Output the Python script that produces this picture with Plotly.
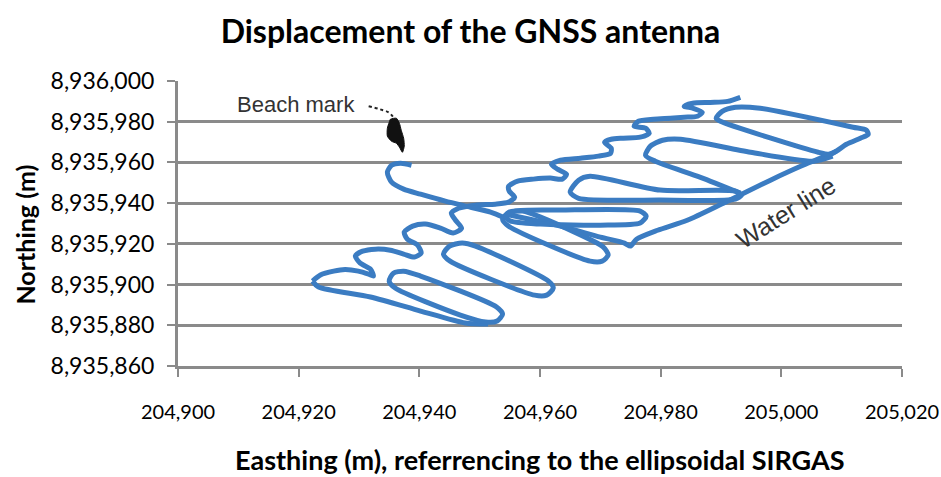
import plotly.graph_objects as go

# ---- data (Easting / Northing, metres) ----
wiggle_e = [204922.3, 204923.6, 204925.8, 204927.7, 204929.9, 204931.6, 204932.4, 204931.9, 204930.2, 204929.4,
            204930.6, 204932.7, 204935.2, 204937.4, 204939.2, 204940.3, 204939.7, 204938.0, 204937.5, 204938.9,
            204941.0, 204943.5, 204945.6, 204947.0, 204946.0, 204945.3, 204946.5, 204949.3, 204952.6, 204954.8,
            204955.8, 204954.9, 204954.8, 204956.3, 204958.9, 204961.7, 204963.7, 204964.4, 204962.9, 204961.9,
            204963.4, 204966.7, 204969.7, 204971.7, 204971.8, 204970.7, 204971.8, 204973.8, 204976.6, 204978.1,
            204977.5, 204975.6, 204976.3, 204978.8, 204981.6, 204983.9, 204986.1, 204986.9, 204985.4, 204983.9,
            204985.3, 204988.2, 204991.1, 204993.2]
wiggle_n = [8935901.7, 8935904.7, 8935906.6, 8935907.4, 8935906.6, 8935905.1, 8935904.2, 8935907.6, 8935910.5, 8935914.0,
            8935916.4, 8935917.4, 8935916.9, 8935915.0, 8935913.5, 8935915.5, 8935919.4, 8935922.3, 8935925.8, 8935928.7,
            8935929.7, 8935927.7, 8935925.3, 8935927.7, 8935931.6, 8935935.1, 8935937.5, 8935939.0, 8935939.5, 8935940.5,
            8935942.9, 8935945.9, 8935948.3, 8935950.8, 8935951.8, 8935952.3, 8935951.8, 8935954.2, 8935956.7, 8935959.1,
            8935961.1, 8935962.1, 8935963.1, 8935964.5, 8935967.0, 8935969.9, 8935971.4, 8935971.9, 8935972.4, 8935974.3,
            8935976.8, 8935977.8, 8935980.2, 8935981.2, 8935981.7, 8935982.2, 8935982.7, 8935984.6, 8935986.6, 8935987.6,
            8935989.1, 8935989.5, 8935990.0, 8935992.0]

hook_e = [204938.7, 204936.9, 204935.4, 204934.7, 204935.4, 204937.4, 204940.2, 204944.3, 204948.5, 204951.8, 204953.9]
hook_n = [8935958.6, 8935959.6, 8935958.6, 8935955.2, 8935950.3, 8935946.9, 8935944.4, 8935941.0, 8935938.0, 8935935.6, 8935933.1]

run1_e = [204922.3, 204923.3, 204931.9, 204940.2, 204947.6, 204951.4]
run1_n = [8935901.7, 8935898.8, 8935893.9, 8935887.0, 8935881.1, 8935880.6]

loop2_e = [204935.0, 204935.7, 204937.4, 204940.2, 204952.8, 204953.8, 204952.9, 204951.0, 204946.8, 204936.0, 204935.0]
loop2_n = [8935901.7, 8935905.6, 8935906.6, 8935904.2, 8935889.0, 8935885.5, 8935882.1, 8935881.6, 8935885.0, 8935898.3, 8935901.7]

loop3_e = [204944.0, 204945.0, 204947.1, 204949.3, 204961.4, 204962.2, 204961.1, 204959.1, 204945.1, 204944.0]
loop3_n = [8935915.0, 8935918.9, 8935920.4, 8935918.9, 8935901.7, 8935898.3, 8935894.8, 8935894.8, 8935911.5, 8935915.0]

loop4_e = [204953.8, 204954.9, 204957.1, 204960.1, 204970.5, 204971.3, 204970.3, 204968.3, 204954.8, 204953.8]
loop4_n = [8935932.1, 8935935.6, 8935936.1, 8935933.1, 8935918.4, 8935914.5, 8935911.5, 8935911.5, 8935928.7, 8935932.1]

water_e = [204954.3, 204963.4, 204970.0, 204974.0, 204975.0, 204976.0, 204979.5, 204984.4, 204990.4, 204998.2,
           205003.2, 205006.5, 205009.1]
water_n = [8935934.6, 8935928.7, 8935923.3, 8935920.4, 8935918.9, 8935922.3, 8935926.7, 8935931.6, 8935940.0, 8935951.3,
           8935958.1, 8935962.1, 8935965.5]

loop5_e = [204954.3, 204955.9, 204963.4, 204976.6, 204977.6, 204976.6, 204970.0, 204960.1, 204955.1, 204954.3]
loop5_n = [8935933.6, 8935936.1, 8935936.6, 8935936.1, 8935933.6, 8935930.2, 8935929.2, 8935929.7, 8935931.2, 8935933.6]

loopb_e = [204965.0, 204966.4, 204968.3, 204979.9, 204992.4, 204993.4, 204992.4, 204979.9, 204966.4, 204965.0]
loopb_n = [8935945.4, 8935951.3, 8935953.2, 8935946.4, 8935945.9, 8935943.9, 8935942.0, 8935941.5, 8935942.4, 8935945.4]

loopa_e = [204993.2, 204986.6, 204979.1, 204977.5, 204978.3, 204980.3, 204983.3, 204994.9, 205005.3, 205008.5]
loopa_n = [8935944.9, 8935952.7, 8935960.6, 8935963.5, 8935968.0, 8935970.9, 8935971.4, 8935965.0, 8935960.6, 8935963.1]

loop8_e = [204989.2, 204990.2, 204992.4, 204996.5, 205011.9, 205014.1, 205014.4, 205013.1, 205010.8, 205009.1,
           205008.1, 205006.1, 204989.9, 204989.2]
loop8_n = [8935981.7, 8935985.1, 8935987.1, 8935986.6, 8935977.3, 8935975.8, 8935973.8, 8935971.9, 8935968.9, 8935965.5,
           8935964.0, 8935965.0, 8935980.2, 8935981.7]

mark_e = [204935.2, 204936.2, 204936.7, 204937.0, 204937.4, 204937.5, 204937.2, 204936.7, 204936.2, 204935.4,
          204934.7, 204934.7, 204935.0, 204935.2]
mark_n = [8935981.2, 8935981.7, 8935979.2, 8935975.8, 8935971.9, 8935968.0, 8935965.0, 8935967.5, 8935969.4, 8935970.4,
          8935972.9, 8935976.8, 8935979.7, 8935981.2]

pointer_e = [204931.6, 204933.5, 204934.9, 204935.7]
pointer_n = [8935987.6, 8935986.1, 8935984.6, 8935982.2]

x_ticks = [204900, 204920, 204940, 204960, 204980, 205000, 205020]
y_ticks = [8935860, 8935880, 8935900, 8935920, 8935940, 8935960, 8935980, 8936000]

BLUE = "#3b7cc2"
GRID = "#8a8a8a"

fig = go.Figure()
paths = [(wiggle_e, wiggle_n), (hook_e, hook_n), (run1_e, run1_n), (loop2_e, loop2_n), (loop3_e, loop3_n),
         (loop4_e, loop4_n), (water_e, water_n), (loop5_e, loop5_n), (loopb_e, loopb_n), (loopa_e, loopa_n),
         (loop8_e, loop8_n)]
for e, n in paths:
    fig.add_trace(go.Scatter(x=e, y=n, mode="lines",
                             line=dict(color=BLUE, width=5, shape="spline", smoothing=0.7),
                             showlegend=False, hoverinfo="skip"))

fig.add_trace(go.Scatter(x=mark_e, y=mark_n, mode="lines", fill="toself", fillcolor="#111111",
                         line=dict(color="#111111", width=1, shape="spline", smoothing=0.6),
                         showlegend=False, hoverinfo="skip"))
fig.add_trace(go.Scatter(x=pointer_e, y=pointer_n, mode="lines",
                         line=dict(color="#222222", width=2, dash="dot", shape="spline"),
                         showlegend=False, hoverinfo="skip"))

fig.update_layout(
    width=941, height=477,
    margin=dict(l=178, r=39, t=81, b=111, autoexpand=False),
    paper_bgcolor="white", plot_bgcolor="white",
    title=dict(text="<b>Displacement of the GNSS antenna</b>", x=0.5, xanchor="center",
               y=1 - 32 / 477, yanchor="middle", yref="container",
               font=dict(family="Lato", size=32, color="black")),
    xaxis=dict(range=[204900, 205020], tickvals=x_ticks, tickformat=",d", automargin=False,
               showgrid=False, zeroline=False, showline=True, linecolor=GRID, linewidth=3,
               ticks="outside", ticklen=8, tickwidth=2, tickcolor=GRID,
               tickfont=dict(family="Lato", size=20, color="black"), ticklabelstandoff=18),
    yaxis=dict(range=[8935860, 8936000], tickvals=y_ticks, tickformat=",d", automargin=False,
               showgrid=True, gridcolor=GRID, gridwidth=3, zeroline=False,
               showline=True, linecolor=GRID, linewidth=3,
               ticks="outside", ticklen=8, tickwidth=2, tickcolor=GRID,
               tickfont=dict(family="Lato", size=23, color="black"), ticklabelstandoff=8),
    annotations=[
        dict(text="<b>Northing (m)</b>", xref="paper", yref="paper", x=(25 - 177.6) / 724.1,
             y=(366 - 234) / 285.3, textangle=-90, showarrow=False, xanchor="center", yanchor="middle",
             font=dict(family="Lato", size=25, color="black")),
        dict(text="<b>Easthing (m), referrencing to the ellipsoidal SIRGAS</b>", xref="paper", yref="paper",
             x=(540 - 177.6) / 724.1, y=(366 - 460) / 285.3, showarrow=False, xanchor="center", yanchor="middle",
             font=dict(family="Lato", size=27, color="black")),
        dict(text="Beach mark", xref="x", yref="y", x=204929.7, y=8935988.6, showarrow=False,
             xanchor="right", yanchor="middle", font=dict(family="Liberation Sans", size=22, color="#333333")),
        dict(text="Water line", xref="x", yref="y", x=205000.8, y=8935935.6, showarrow=False,
             textangle=-32, xanchor="center", yanchor="middle",
             font=dict(family="Liberation Sans", size=25, color="#333333")),
    ],
)

fig.write_html("out.html")
